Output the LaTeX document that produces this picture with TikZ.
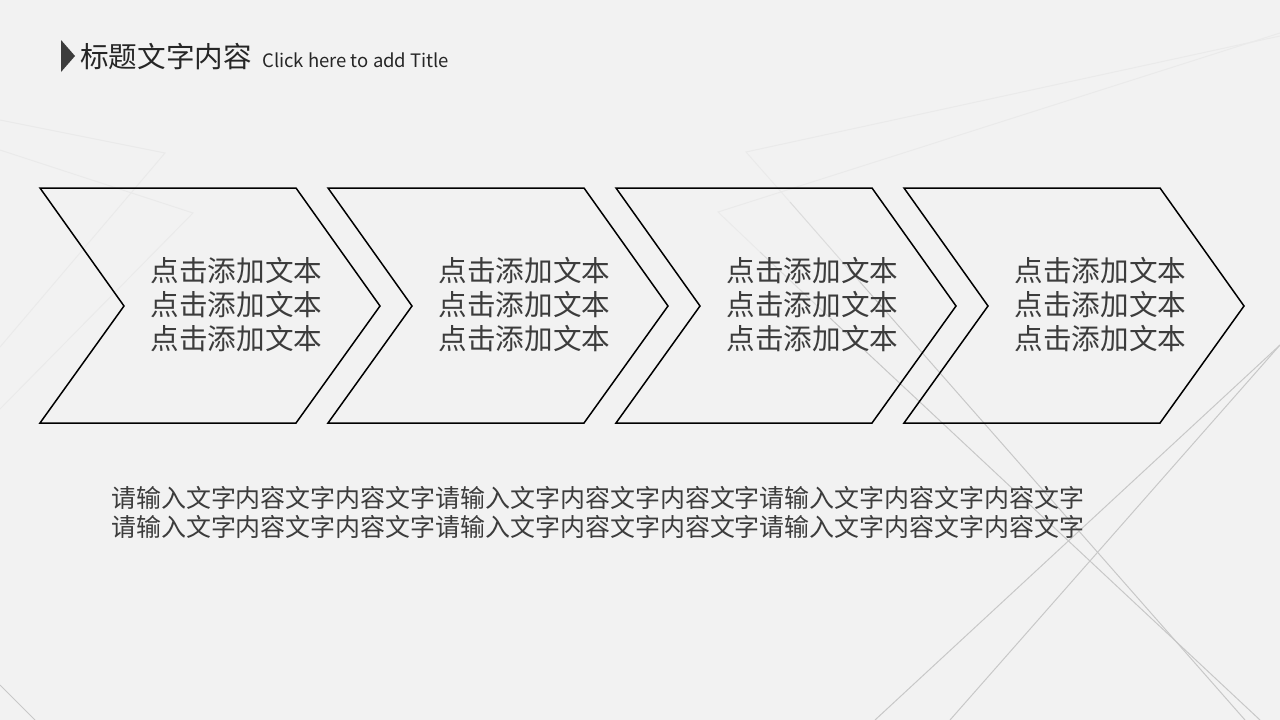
\documentclass[tikz,border=0pt]{standalone}
\usepackage{fontspec}
\newfontfamily\cjk{Noto Sans CJK SC}
\definecolor{bgc}{HTML}{F2F2F2}
\definecolor{txt}{HTML}{3C3C3C}
\definecolor{ttl}{HTML}{262626}
\definecolor{ln1}{HTML}{EAEAEA}
\definecolor{ln2}{HTML}{DCDCDC}
\definecolor{ln3}{HTML}{C8C8C8}
\tikzset{
  chev/.style={draw=black, line width=1.5pt, line join=miter},
  chevtext/.style={font=\cjk\fontsize{28.6}{34}\selectfont, text=txt, align=center, inner sep=0pt},
  bodytext/.style={font=\cjk\fontsize{24.95}{29}\selectfont, text=txt, align=left, inner sep=0pt},
  bgline/.style={line width=1pt},
}
\begin{document}
\begin{tikzpicture}[x=1pt,y=-1pt]
\fill[bgc] (0,0) rectangle (1280,720);
\useasboundingbox (0,0) rectangle (1280,720);
% background lines (left, faint)
\draw[bgline, ln1] (0,120) -- (165,153) -- (0,347);
\draw[bgline, ln1] (0,150) -- (193,213) -- (0,409);
\draw[bgline, ln3] (0,685) -- (35,720);
% background lines (right)
\draw[bgline, ln1] (1280,36) -- (746,152) -- (790,202);
\draw[bgline, ln2] (790,202) -- (860,282);
\draw[bgline, ln3] (860,282) -- (1245,720);
\draw[bgline, ln1] (1280,33) -- (718,212) -- (760,252);
\draw[bgline, ln2] (760,252) -- (830,318);
\draw[bgline, ln3] (830,318) -- (1260,720);
\draw[bgline, ln3] (875,720) -- (1280,345);
\draw[bgline, ln3] (950,720) -- (1280,345);
% title
\fill[txt] (61,40) -- (75,56) -- (61,72) -- cycle;
\node[font=\cjk\fontsize{28.6}{34}\selectfont, text=ttl, anchor=base west, inner sep=0pt] (title) at (80,67) {标题文字内容};
\node[font=\cjk\fontsize{18.5}{22}\selectfont, text=ttl, anchor=base west, inner sep=0pt] (subtitle) at (262,67) {Click here to add Title};
% chevrons
\foreach \i in {0,...,3}{
  \pgfmathsetmacro\ox{40+288*\i}
  \draw[chev] (\ox,188) -- ++(256,0) -- ++(84,118) -- ++(-84,117) -- ++(-256,0) -- ++(84,-117) -- cycle;
  \node[chevtext] (t\i) at (\ox+196.5,305) {点击添加文本\\点击添加文本\\点击添加文本};
}
% body text
\node[bodytext, anchor=west] (body) at (111,512.5) {请输入文字内容文字内容文字请输入文字内容文字内容文字请输入文字内容文字内容文字\\请输入文字内容文字内容文字请输入文字内容文字内容文字请输入文字内容文字内容文字};
\end{tikzpicture}
\end{document}
